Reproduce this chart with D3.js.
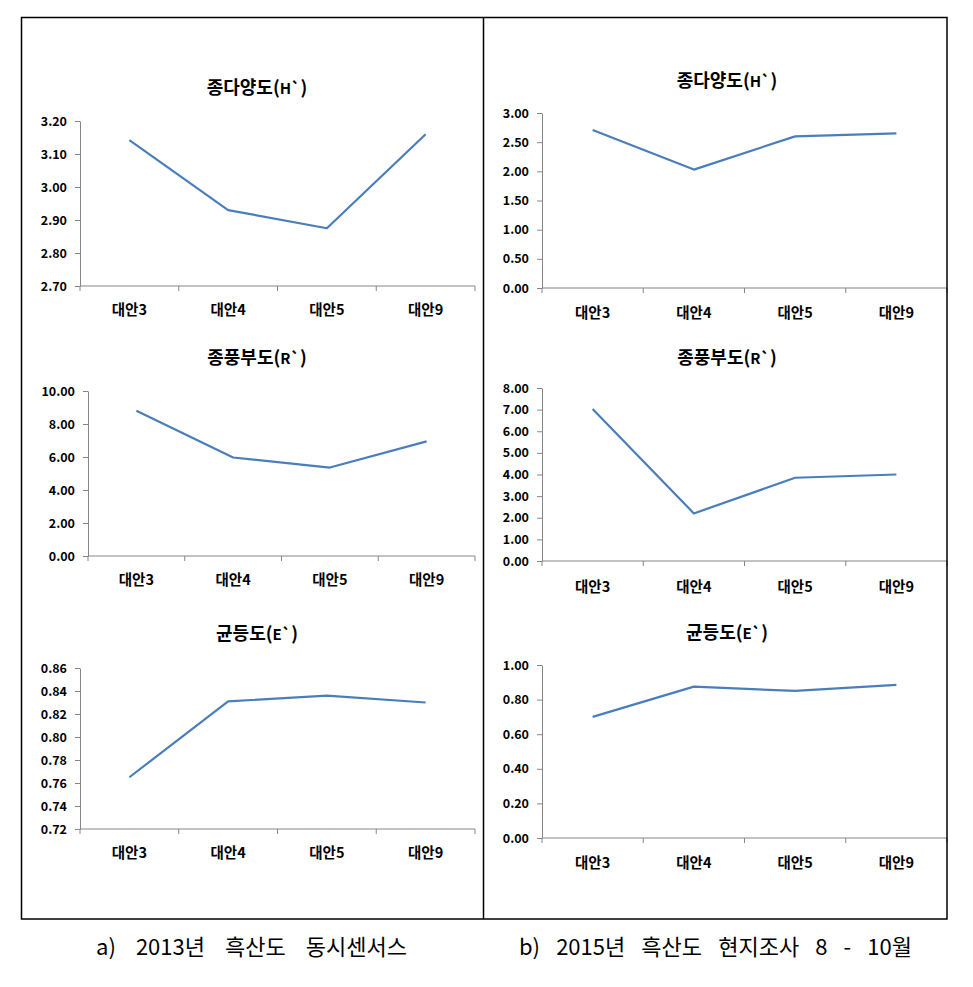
<!DOCTYPE html>
<html>
<head>
<meta charset="utf-8">
<script src="https://cdn.jsdelivr.net/npm/d3@7/dist/d3.min.js"></script>
<style>
  html, body { margin: 0; padding: 0; background: #fff; }
  svg { display: block; }
  text { font-family: "Noto Sans CJK KR", "Noto Sans", sans-serif; }
</style>
</head>
<body>
<svg id="chart" width="973" height="987"></svg>
<script>
// ---------------- data ----------------
const categories = ["대안3", "대안4", "대안5", "대안9"];

const h2013 = [3.142, 2.93, 2.875, 3.16];
const r2013 = [8.80, 5.97, 5.36, 6.95];
const e2013 = [0.765, 0.831, 0.836, 0.830];

const h2015 = [2.71, 2.03, 2.60, 2.65];
const r2015 = [7.03, 2.20, 3.85, 4.00];
const e2015 = [0.70, 0.875, 0.85, 0.885];

const ticksH2013 = [2.70, 2.80, 2.90, 3.00, 3.10, 3.20];
const ticksR2013 = [0, 2, 4, 6, 8, 10];
const ticksE2013 = [0.72, 0.74, 0.76, 0.78, 0.80, 0.82, 0.84, 0.86];
const ticksH2015 = [0, 0.5, 1.0, 1.5, 2.0, 2.5, 3.0];
const ticksR2015 = [0, 1, 2, 3, 4, 5, 6, 7, 8];
const ticksE2015 = [0, 0.2, 0.4, 0.6, 0.8, 1.0];

const titleH = ["종다양도(", "H`", ")"];
const titleR = ["종풍부도(", "R`", ")"];
const titleE = ["균등도(", "E`", ")"];

const captionA = "a) 2013년 흑산도 동시센서스";
const captionB = "b) 2015년 흑산도 현지조사 8 - 10월";

// ---------------- layout ----------------
const svg = d3.select("#chart");
const lineColor = "#4a7ebb";
const axisColor = "#868686";

const panels = [
  { values: h2013, ticks: ticksH2013, title: titleH, x0: 80, x1: 475, y0: 121, y1: 286, ty: 94, tx: 257, ly: 315 },
  { values: r2013, ticks: ticksR2013, title: titleR, x0: 88, x1: 475, y0: 391, y1: 556, ty: 364, tx: 257, ly: 585 },
  { values: e2013, ticks: ticksE2013, title: titleE, x0: 80, x1: 475, y0: 668, y1: 829, ty: 640, tx: 257, ly: 858 },
  { values: h2015, ticks: ticksH2015, title: titleH, x0: 542, x1: 947, y0: 113, y1: 288, ty: 87, tx: 727, ly: 318 },
  { values: r2015, ticks: ticksR2015, title: titleR, x0: 542, x1: 947, y0: 388, y1: 561, ty: 364, tx: 727, ly: 592 },
  { values: e2015, ticks: ticksE2015, title: titleE, x0: 542, x1: 947, y0: 665, y1: 838, ty: 639, tx: 727, ly: 868 }
];

panels.forEach(p => {
  const g = svg.append("g");
  const x = d3.scaleBand().domain(categories).range([p.x0, p.x1]).padding(0);
  const y = d3.scaleLinear().domain([p.ticks[0], p.ticks[p.ticks.length - 1]]).range([p.y1, p.y0]);

  // title
  const t = g.append("text")
    .attr("x", p.tx).attr("y", p.ty)
    .attr("text-anchor", "middle")
    .attr("font-weight", "bold")
    .attr("font-size", 18)
    .attr("fill", "#000");
  t.append("tspan").text(p.title[0]);
  t.append("tspan").attr("font-size", 15).text(p.title[1]);
  t.append("tspan").text(p.title[2]);

  // y axis
  const yAxis = d3.axisLeft(y).tickValues(p.ticks).tickSize(5).tickSizeOuter(0)
    .tickFormat(d => d.toFixed(2));
  const ya = g.append("g").attr("transform", `translate(${p.x0},0)`).call(yAxis);
  ya.select(".domain").attr("stroke", axisColor);
  ya.selectAll(".tick line").attr("stroke", axisColor);
  ya.selectAll(".tick text")
    .attr("x", -13)
    .attr("font-size", 12.5)
    .attr("font-weight", "bold")
    .attr("fill", "#000")
    .attr("font-family", "'Noto Sans CJK KR', sans-serif");

  // x axis line and boundary ticks
  g.append("line")
    .attr("x1", p.x0).attr("x2", p.x1)
    .attr("y1", p.y1).attr("y2", p.y1)
    .attr("stroke", axisColor).attr("stroke-width", 1);
  const bounds = categories.map(c => x(c)).concat([p.x1]);
  g.selectAll(".xt").data(bounds).enter().append("line")
    .attr("x1", d => d).attr("x2", d => d)
    .attr("y1", p.y1).attr("y2", p.y1 + 5)
    .attr("stroke", axisColor);

  // category labels
  g.selectAll(".cl").data(categories).enter().append("text")
    .attr("x", d => x(d) + x.bandwidth() / 2)
    .attr("y", p.ly)
    .attr("text-anchor", "middle")
    .attr("font-size", 14.5)
    .attr("font-weight", "bold")
    .attr("fill", "#000")
    .text(d => d);

  // line
  const line = d3.line()
    .x((d, i) => x(categories[i]) + x.bandwidth() / 2)
    .y(d => y(d));
  g.append("path")
    .datum(p.values)
    .attr("d", line)
    .attr("fill", "none")
    .attr("stroke", lineColor)
    .attr("stroke-width", 2.2)
    .attr("stroke-linejoin", "round");
});

// outer frame
svg.append("rect")
  .attr("x", 21.5).attr("y", 17.5)
  .attr("width", 925.5).attr("height", 901.5)
  .attr("fill", "none").attr("stroke", "#000").attr("stroke-width", 1.5);
svg.append("line")
  .attr("x1", 483.5).attr("x2", 483.5)
  .attr("y1", 17.5).attr("y2", 919)
  .attr("stroke", "#000").attr("stroke-width", 1.5);

// captions: widen only the gaps between words to match the reference width
function caption(str, x0, width) {
  const el = svg.append("text")
    .attr("x", x0).attr("y", 955)
    .attr("font-size", 22)
    .attr("fill", "#000")
    .text(str);
  const len = el.node().getComputedTextLength();
  const gaps = str.split(" ").length - 1;
  const extra = Math.max(0, (width - len) / gaps);
  el.attr("word-spacing", extra);
}
caption(captionA, 96, 311);
caption(captionB, 519, 393);
</script>
</body>
</html>
